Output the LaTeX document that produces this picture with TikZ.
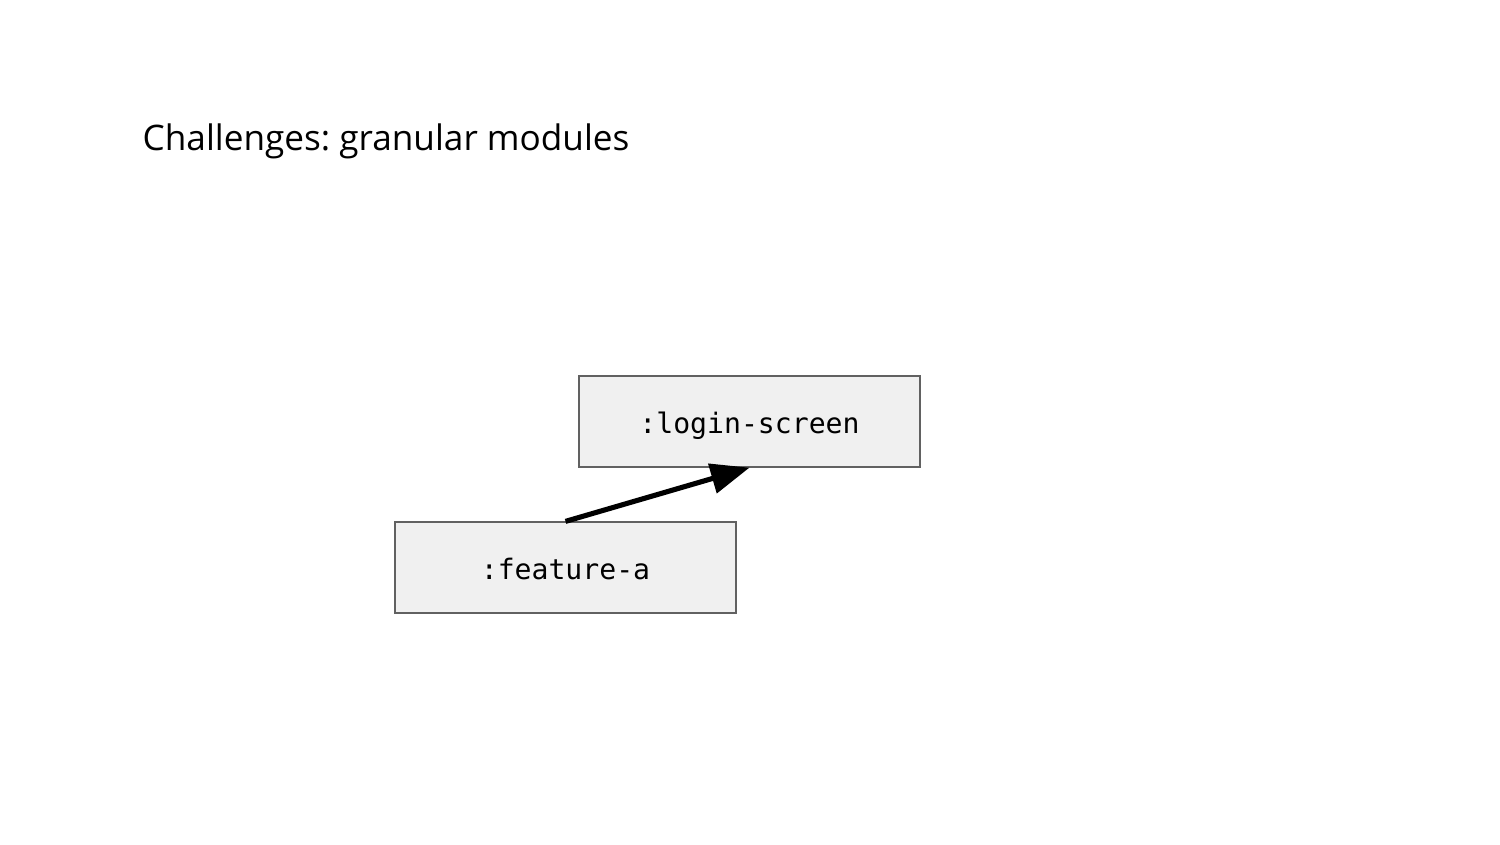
\documentclass[tikz,border=0pt]{standalone}
\usepackage{fontspec}
\setmainfont{Open Sans}
\setmonofont{DejaVu Sans Mono}
\usetikzlibrary{arrows.meta}
\frenchspacing

\begin{document}
\begin{tikzpicture}[x=0.01cm,y=-0.01cm,>={Triangle[length=11pt,width=8.5pt]},
                    modbox/.style={draw=black!62,fill=black!6,line width=0.35pt,
                      minimum width=3.41cm,minimum height=0.91cm,inner sep=0pt,
                      text height=6.54pt,text depth=0pt,
                      font=\ttfamily\fontsize{8}{10}\selectfont},
                    dep/.style={->,line width=1.45pt}]
  \useasboundingbox (0,0) rectangle (1500,844);
  \node[anchor=base west,inner sep=0pt,font=\fontsize{10}{12}\selectfont]
      (title) at (142,150) {Challenges: granular modules};
  \node[modbox] (login) at (749.5,421.5) {:login-screen};
  \node[modbox] (feata) at (565.5,567.5) {:feature-a};
  \draw[dep] (feata.north) -- (login.south);
\end{tikzpicture}
\end{document}
